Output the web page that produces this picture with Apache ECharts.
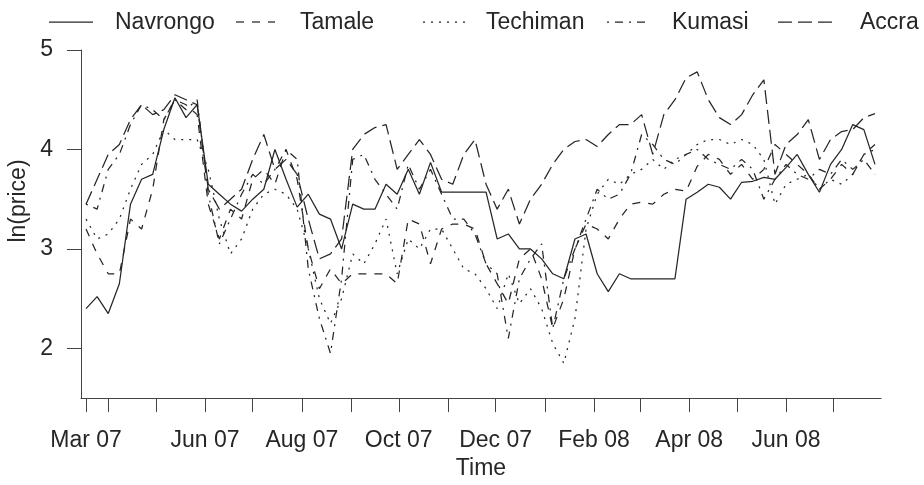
<!DOCTYPE html>
<html>
<head>
<meta charset="utf-8">
<script src="https://cdn.jsdelivr.net/npm/echarts@6/dist/echarts.min.js"></script>
<style>
  html, body { margin: 0; padding: 0; background: #fff; }
  #chart { width: 924px; height: 485px; }
</style>
</head>
<body>
<div id="chart"></div>
<script>
// Weekly log prices of five Ghanaian markets, Mar 2007 - Jul 2008
const firstWeek = '2007-03-18';
const weekCount = 72;

const navrongo = [
  2.40, 2.52, 2.35, 2.65, 3.45, 3.70, 3.75, 4.20, 4.52, 4.32, 4.45, 3.65,
  3.55, 3.45, 3.38, 3.50, 3.60, 4.00, 3.70, 3.42, 3.55, 3.35, 3.30, 3.00,
  3.45, 3.40, 3.40, 3.65, 3.55, 3.80, 3.55, 3.87, 3.57, 3.57, 3.57, 3.57,
  3.57, 3.10, 3.15, 3.00, 3.00, 2.90, 2.75, 2.70, 3.10, 3.15, 2.75, 2.57,
  2.75, 2.70, 2.70, 2.70, 2.70, 2.70, 3.50, 3.57, 3.65, 3.62, 3.50, 3.67,
  3.68, 3.72, 3.70, 3.82, 3.95, 3.75, 3.57, 3.85, 4.00, 4.25, 4.20, 3.85
];
const tamale = [
  3.20, 2.95, 2.75, 2.75, 3.30, 3.20, 3.60, 4.30, 4.50, 4.45, 4.35, 3.45,
  3.10, 3.40, 3.30, 3.70, 3.80, 3.65, 4.00, 3.70, 3.00, 2.60, 2.80, 2.65,
  2.75, 2.75, 2.75, 2.75, 2.65, 3.30, 3.25, 2.85, 3.20, 3.25, 3.25, 3.20,
  2.85, 2.65, 2.45, 2.90, 3.00, 2.70, 2.20, 2.50, 3.00, 3.25, 3.20, 3.10,
  3.30, 3.45, 3.47, 3.45, 3.55, 3.60, 3.58, 3.83, 3.95, 3.90, 3.75, 3.85,
  3.70, 3.80, 4.05, 3.95, 3.85, 3.75, 3.60, 3.70, 3.85, 3.75, 3.95, 4.05
];
const techiman = [
  3.30, 3.10, 3.15, 3.30, 3.60, 3.85, 3.95, 4.20, 4.10, 4.10, 4.10, 3.80,
  3.30, 2.95, 3.10, 3.40, 3.55, 3.60, 3.55, 3.40, 3.00, 2.50, 2.25, 2.50,
  2.95, 2.85, 3.05, 3.30, 2.75, 3.10, 3.00, 3.20, 3.20, 3.00, 2.80, 2.75,
  2.60, 2.40, 2.75, 2.45, 2.60, 2.40, 2.05, 1.85, 2.30, 3.20, 3.55, 3.70,
  3.65, 3.75, 3.80, 3.90, 3.80, 3.90, 3.95, 4.05, 4.10, 4.10, 4.05, 4.10,
  4.05, 3.90, 3.45, 3.65, 3.70, 3.75, 3.60, 3.70, 3.65, 3.75, 3.95, 4.00
];
const kumasi = [
  3.45, 3.40, 3.80, 3.95, 4.25, 4.45, 4.40, 4.30, 4.50, 4.40, 4.50, 3.55,
  3.05, 3.30, 3.55, 3.75, 3.65, 3.80, 4.00, 3.90, 2.80, 2.30, 1.95, 2.70,
  3.90, 3.95, 3.70, 3.55, 3.40, 3.85, 3.60, 3.80, 3.55, 3.30, 3.30, 3.15,
  2.85, 2.75, 2.10, 2.70, 2.90, 3.05, 2.20, 2.70, 3.00, 3.30, 3.60, 3.50,
  3.55, 3.75, 4.15, 4.05, 3.90, 3.85, 3.95, 4.00, 3.90, 3.85, 3.80, 3.90,
  3.80, 3.50, 3.70, 3.85, 3.75, 3.70, 3.80, 3.75, 3.90, 3.80, 3.90, 3.75
];
const accra = [
  3.45, 3.70, 3.95, 4.05, 4.30, 4.45, 4.35, 4.40, 4.55, 4.50, 4.45, 3.60,
  3.40, 3.50, 3.60, 3.90, 4.15, 3.80, 3.90, 3.75, 3.30, 2.90, 2.95, 3.10,
  4.00, 4.15, 4.22, 4.25, 3.80, 3.95, 4.10, 3.95, 3.70, 3.65, 3.95, 4.10,
  3.65, 3.40, 3.60, 3.25, 3.50, 3.65, 3.85, 4.00, 4.08, 4.10, 4.03, 4.15,
  4.25, 4.25, 4.35, 3.95, 4.35, 4.50, 4.72, 4.78, 4.50, 4.32, 4.25, 4.35,
  4.55, 4.70, 3.75, 4.05, 4.15, 4.30, 3.90, 4.10, 4.18, 4.20, 4.32, 4.36
];

const seriesNames = ['Navrongo', 'Tamale', 'Techiman', 'Kumasi', 'Accra'];
const seriesValues = [navrongo, tamale, techiman, kumasi, accra];

// axis ticks: first week, then the first of every month
const tickDates = [
  '2007-03-18', '2007-04-01', '2007-05-01', '2007-06-01', '2007-07-01',
  '2007-08-01', '2007-09-01', '2007-10-01', '2007-11-01', '2007-12-01',
  '2008-01-01', '2008-02-01', '2008-03-01', '2008-04-01', '2008-05-01',
  '2008-06-01', '2008-07-01'
];
const labelDates = [
  '2007-03-18', '2007-06-01', '2007-08-01', '2007-10-01',
  '2007-12-01', '2008-02-01', '2008-04-01', '2008-06-01'
];
const labelTexts = ['Mar 07', 'Jun 07', 'Aug 07', 'Oct 07', 'Dec 07', 'Feb 08', 'Apr 08', 'Jun 08'];
const yTicks = [2, 3, 4, 5];

const DAY = 86400000;
const t0 = Date.parse(firstWeek);
const weeks = [];
for (let i = 0; i < weekCount; i++) weeks.push(t0 + i * 7 * DAY);

const tickValues = tickDates.map(d => Date.parse(d));
const labelValues = labelDates.map(d => Date.parse(d));
const labelMap = {};
labelValues.forEach((v, i) => { labelMap[v] = labelTexts[i]; });

// R-style line types: solid, dashed, dotted, dotdash, longdash
const dashes = ['solid', [8, 8], [2, 6], [2, 6, 8, 6], [14, 6]];
const ink = '#262626';
const FONT = '"Liberation Sans", Arial, sans-serif';

const chart = echarts.init(document.getElementById('chart'), null, { renderer: 'canvas' });

const series = seriesNames.map((name, s) => ({
  name: name,
  type: 'line',
  data: weeks.map((w, i) => [w, seriesValues[s][i]]),
  symbol: 'none',
  smooth: false,
  lineStyle: { color: ink, width: 1.25, type: dashes[s] },
  emphasis: { disabled: true },
  animation: false
}));

// legend row along the top, plus the rotated y-axis title
const legendLineX = [49, 236, 423, 607, 778];
const legendLineW = [44, 39, 43, 38, 56];
const legendTextX = [115, 300, 486, 672, 860];
const legendY = 22;
const extraGraphics = [];
seriesNames.forEach((name, s) => {
  extraGraphics.push({
    type: 'line',
    shape: { x1: legendLineX[s], y1: legendY, x2: legendLineX[s] + legendLineW[s], y2: legendY },
    style: {
      stroke: ink, lineWidth: 1.25,
      lineDash: dashes[s] === 'solid' ? null : dashes[s]
    }
  });
  extraGraphics.push({
    type: 'text',
    x: legendTextX[s], y: legendY + 1,
    style: {
      text: name, font: '23px ' + FONT, fill: ink,
      align: 'left', verticalAlign: 'middle'
    }
  });
});
extraGraphics.push({
  type: 'text',
  x: 19, y: 201,
  rotation: Math.PI / 2,
  style: {
    text: 'ln(price)', font: '23px ' + FONT, fill: ink,
    align: 'center', verticalAlign: 'middle'
  }
});

chart.setOption({
  backgroundColor: '#fff',
  animation: false,
  grid: { left: 81, right: 43, top: 50, bottom: 85, containLabel: false },
  xAxis: {
    type: 'value',
    min: Date.UTC(2007, 2, 14, 20),
    max: Date.UTC(2008, 6, 30, 19),
    name: 'Time',
    nameLocation: 'middle',
    nameGap: 58,
    nameTextStyle: { fontFamily: FONT, fontSize: 23, color: ink },
    axisLine: { show: true, onZero: false, lineStyle: { color: '#444', width: 1 } },
    axisTick: { show: true, inside: false, length: 14, customValues: tickValues,
      lineStyle: { color: '#444', width: 1 } },
    axisLabel: {
      show: true, customValues: labelValues, margin: 31,
      fontFamily: FONT, fontSize: 23, color: ink,
      formatter: v => labelMap[v] || ''
    },
    splitLine: { show: false }
  },
  yAxis: {
    type: 'value',
    min: 1.5,
    max: 5,
    axisLine: { show: true, onZero: false, lineStyle: { color: '#444', width: 1 } },
    axisTick: { show: true, inside: false, length: 14, customValues: yTicks,
      lineStyle: { color: '#444', width: 1 } },
    axisLabel: {
      show: true, customValues: yTicks, margin: 28,
      fontFamily: FONT, fontSize: 23, color: ink
    },
    splitLine: { show: false }
  },
  graphic: extraGraphics,
  series: series
});
</script>
</body>
</html>
